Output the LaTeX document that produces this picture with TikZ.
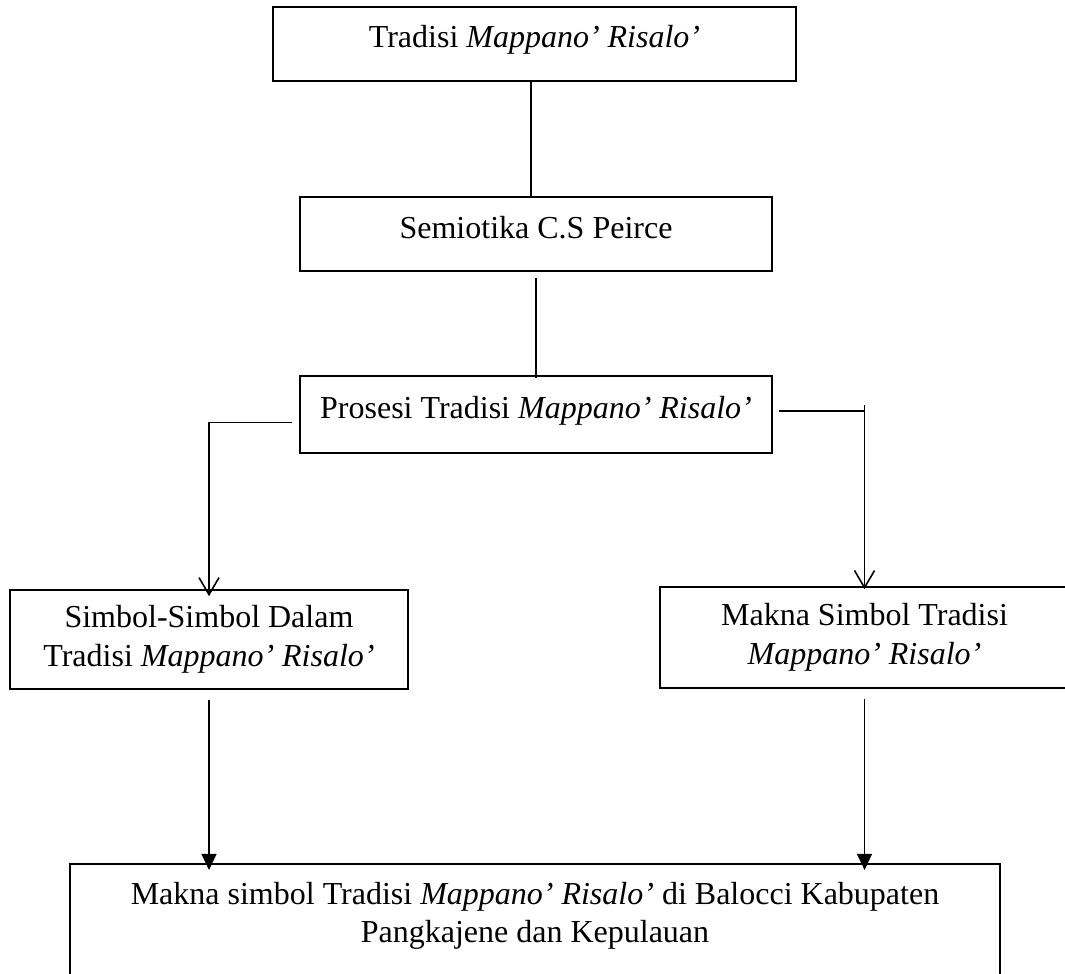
\documentclass[tikz,border=0pt]{standalone}
\usepackage{fontspec}
\setmainfont{Liberation Serif}
\usetikzlibrary{arrows.meta}
\begin{document}
\begin{tikzpicture}[x=0.375pt,y=-0.375pt,line width=0.6pt,
	kotak/.style={draw,align=center,inner sep=0pt,font=\fontsize{12}{14.5}\selectfont},
	satu/.style={kotak,text height=8.5pt,text depth=5.5pt},
	buka/.style={-{Straight Barb[length=6.4pt,width=7.5pt]}},
	penuh/.style={-{Triangle[length=6pt,width=5.6pt]}}]
	\useasboundingbox (0,0) rectangle (1065,973);
	\node[satu,minimum width=196.1pt,minimum height=27.75pt] (tradisi) at (534.5,44) {Tradisi \textit{Mappano' Risalo'}};
	\node[satu,minimum width=177pt,minimum height=27.75pt] (semiotika) at (536,234) {Semiotika C.S Peirce};
	\node[satu,minimum width=177pt,minimum height=28.9pt] (prosesi) at (536,414.5) {Prosesi Tradisi \textit{Mappano' Risalo'}};
	\node[kotak,minimum width=149.25pt,minimum height=37.1pt] (simbol) at (209,639.5) {Simbol-Simbol Dalam\\Tradisi \textit{Mappano' Risalo'}};
	\node[kotak,minimum width=153.4pt,minimum height=37.9pt] (makna) at (864.5,637.5) {Makna Simbol Tradisi\\\textit{Mappano' Risalo'}};
	\node[kotak,anchor=north,minimum width=348.75pt,inner ysep=6.8pt,text depth=9pt] (hasil) at (535,863) {Makna simbol Tradisi \textit{Mappano' Risalo'} di Balocci Kabupaten\\Pangkajene dan Kepulauan};
	\coordinate (atas) at ([xshift=-1.3pt]tradisi.south);
	\coordinate (belok) at (prosesi.east -| makna.north);
	\coordinate (kiri) at (simbol.south |- hasil.north);
	\coordinate (kanan) at (makna.south |- hasil.north);
	\draw (atas) -- (atas |- semiotika.north);
	\draw ([yshift=-2.2pt]semiotika.south) -- ([yshift=-1.1pt]prosesi.north);
	\draw[buka] ([shift={(-7,8)}]prosesi.west) -| ([shift={(0,7)}]simbol.north);
	\draw[buka] ([shift={(6,-3.5)}]prosesi.east) -| ([shift={(0,3)}]makna.north);
	\draw ([yshift=1.3pt]belok) -- ++(0,-6);
	\draw[penuh] ([yshift=-3.75pt]simbol.south) -- ([yshift=-2.6pt]kiri);
	\draw[penuh] ([yshift=-3.75pt]makna.south) -- ([yshift=-2.6pt]kanan);
\end{tikzpicture}
\end{document}
